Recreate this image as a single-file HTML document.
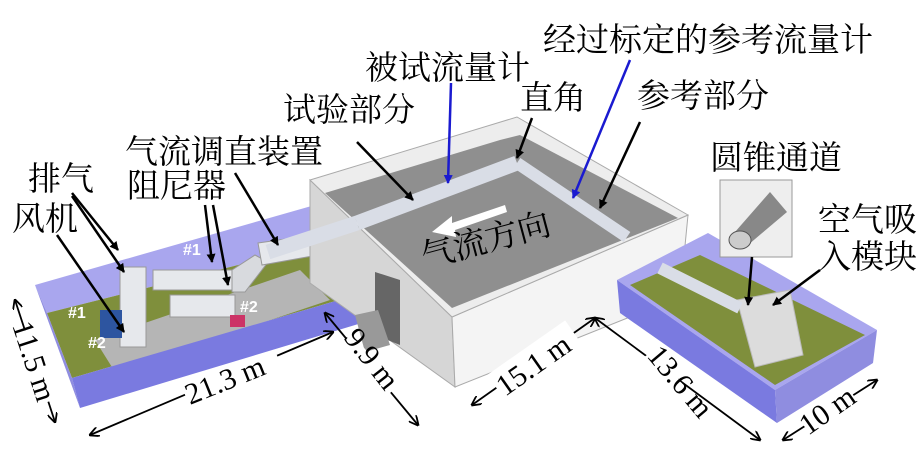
<!DOCTYPE html>
<html><head><meta charset="utf-8"><style>
html,body{margin:0;padding:0;background:#fff;}
svg{display:block}
text{font-family:"Liberation Serif","Noto Serif CJK SC","Noto Sans CJK SC",serif;fill:#000;}
.l{font-size:33px}
.d{font-size:30px}
.h{font-size:16px;fill:#fff;font-family:"Liberation Sans",sans-serif;font-weight:bold}
</style></head><body>
<svg width="918" height="453" viewBox="0 0 918 453" xmlns="http://www.w3.org/2000/svg">
<defs>
<marker id="a" markerWidth="9" markerHeight="9" refX="8" refY="4.5" orient="auto" markerUnits="userSpaceOnUse"><path d="M0,0 L9,4.5 L0,9 z" fill="#000"/></marker>
<marker id="ab" markerWidth="9" markerHeight="9" refX="8" refY="4.5" orient="auto" markerUnits="userSpaceOnUse"><path d="M0,0 L9,4.5 L0,9 z" fill="#1a1ad0"/></marker>
<marker id="s" markerWidth="10" markerHeight="10" refX="1" refY="5" orient="auto" markerUnits="userSpaceOnUse"><path d="M10,0 L0,5 L10,10" fill="none" stroke="#000" stroke-width="1.8"/></marker>
<marker id="e" markerWidth="10" markerHeight="10" refX="9" refY="5" orient="auto" markerUnits="userSpaceOnUse"><path d="M0,0 L10,5 L0,10" fill="none" stroke="#000" stroke-width="1.8"/></marker>
</defs>

<!-- left pit -->
<polygon points="35,285 315,205 318,245 47,313" fill="#a9a6ee"/>
<polygon points="47,313 318,245 363,293 72,378" fill="#7f8f3c"/>
<polygon points="95,340 300,270 330,300 115,372" fill="#b5b5b5"/>
<polygon points="35,285 47,313 72,378 80,408" fill="#8f8de0"/>
<polygon points="72,378 363,293 365,322 80,408" fill="#7a7ae0"/>
<!-- left pipes -->
<rect x="153" y="270" width="82" height="20" fill="#e6e8ec" stroke="#999"/>
<rect x="170" y="295" width="65" height="22" fill="#e6e8ec" stroke="#999"/>
<polygon points="232,270 255,255 268,262 245,292 232,292" fill="#d8dade" stroke="#999"/>
<polygon points="258,243 335,232 335,252 262,265" fill="#e6e8ec" stroke="#999"/>
<rect x="120" y="267" width="26" height="80" fill="#e6e8ec" stroke="#999"/>
<rect x="100" y="310" width="22" height="28" fill="#2d55a0"/>
<rect x="230" y="315" width="15" height="12" fill="#c36"/>
<text class="h" x="68" y="318">#1</text>
<text class="h" x="88" y="348">#2</text>
<text class="h" x="183" y="255">#1</text>
<text class="h" x="240" y="312">#2</text>

<!-- building -->
<polygon points="310,180 310,283 455,387 452,317" fill="#d6d6d6" stroke="#aaa"/>
<polygon points="452,317 688,215 680,297 455,387" fill="#f4f4f4" stroke="#aaa"/>
<polygon points="310,180 517,117 688,215 452,317" fill="#ededed" stroke="#aaa"/>
<polygon points="325,193 500,140 520,135 678,218 452,308" fill="#8f8f8f"/>
<polygon points="375,272 400,280 400,345 375,335" fill="#666"/>
<polygon points="355,315 378,310 390,345 365,352" fill="#999"/>
<!-- pipe in building -->
<line x1="357" y1="223" x2="517" y2="163" stroke="#d9dde6" stroke-width="15"/>
<line x1="517" y1="163" x2="627" y2="237" stroke="#d9dde6" stroke-width="12"/>
<line x1="268" y1="252" x2="357" y2="223" stroke="#d9dde6" stroke-width="15"/>
<polygon points="432,232 452,216 452,223 505,205 507,212 455,230 456,237" fill="#fff"/>

<!-- right pit -->
<polygon points="617,280 708,233 877,330 775,390" fill="#a9a6ee"/>
<polygon points="630,285 700,255 865,335 775,385" fill="#7f8f3c"/>
<polygon points="737,300 790,290 803,355 755,367" fill="#dcdcdc" stroke="#bbb"/>
<polygon points="617,280 775,390 777,423 620,313" fill="#7a7ae0"/>
<polygon points="775,390 877,330 873,363 777,423" fill="#8f8de0"/>
<line x1="660" y1="268" x2="740" y2="308" stroke="#d9dde6" stroke-width="12"/>
<!-- cone inset -->
<rect x="720" y="180" width="72" height="77" fill="#eee" stroke="#999"/>
<polygon points="735,232 770,192 787,212 748,245" fill="#888"/>
<ellipse cx="740" cy="240" rx="11" ry="9" fill="#ccc" stroke="#555"/>

<!-- labels -->
<text class="l" x="28" y="190">排气</text>
<text class="l" x="12" y="230">风机</text>
<text class="l" x="125" y="163">气流调直装置</text>
<text class="l" x="127" y="197">阻尼器</text>
<text class="l" x="283" y="121">试验部分</text>
<text class="l" x="365" y="79">被试流量计</text>
<text class="l" x="543" y="51">经过标定的参考流量计</text>
<text class="l" x="520" y="109">直角</text>
<text class="l" x="637" y="107">参考部分</text>
<text class="l" x="710" y="169">圆锥通道</text>
<text class="l" x="818" y="231">空气吸</text>
<text class="l" x="818" y="268">入模块</text>
<text class="l" transform="translate(425,268) rotate(-15)">气流方向</text>

<!-- label arrows -->
<g stroke="#000" stroke-width="2.5" fill="none">
<line x1="72" y1="193" x2="118" y2="250" marker-end="url(#a)"/>
<line x1="72" y1="196" x2="124" y2="272" marker-end="url(#a)"/>
<line x1="57" y1="235" x2="124" y2="332" marker-end="url(#a)"/>
<line x1="205" y1="205" x2="212" y2="262" marker-end="url(#a)"/>
<line x1="213" y1="205" x2="228" y2="285" marker-end="url(#a)"/>
<line x1="235" y1="173" x2="278" y2="245" marker-end="url(#a)"/>
<line x1="357" y1="142" x2="413" y2="200" marker-end="url(#a)"/>
<line x1="532" y1="118" x2="517" y2="158" marker-end="url(#a)"/>
<line x1="640" y1="122" x2="600" y2="208" marker-end="url(#a)"/>
<line x1="752" y1="257" x2="748" y2="305" marker-end="url(#a)"/>
<line x1="820" y1="270" x2="773" y2="305" marker-end="url(#a)"/>
</g>
<g stroke="#1a1ad0" stroke-width="2.5" fill="none">
<line x1="451" y1="83" x2="448" y2="183" marker-end="url(#ab)"/>
<line x1="630" y1="60" x2="573" y2="198" marker-end="url(#ab)"/>
</g>

<!-- dimensions -->
<g stroke="#000" stroke-width="1.8" fill="none">
<line x1="15" y1="300" x2="55" y2="422" marker-start="url(#s)" marker-end="url(#e)"/>
<line x1="90" y1="435" x2="333" y2="332" marker-start="url(#s)" marker-end="url(#e)"/>
<line x1="325" y1="313" x2="418" y2="425" marker-start="url(#s)" marker-end="url(#e)"/>
<line x1="472" y1="405" x2="595" y2="318" marker-start="url(#s)" marker-end="url(#e)"/>
<line x1="595" y1="318" x2="760" y2="440" marker-start="url(#s)" marker-end="url(#e)"/>
<line x1="783" y1="440" x2="877" y2="380" marker-start="url(#s)" marker-end="url(#e)"/>
</g>
<g>
<rect x="185" y="368" width="100" height="34" fill="#fff" transform="rotate(-22 235 385)"/>
<text class="d" transform="translate(190,405) rotate(-22)">21.3 m</text>
<rect x="18" y="330" width="28" height="75" fill="#fff" transform="rotate(-18 32 367)"/>
<text class="d" transform="translate(12,325) rotate(72)">11.5 m</text>
<rect x="348" y="335" width="30" height="70" fill="#fff" transform="rotate(-40 363 370)"/>
<text class="d" transform="translate(343,338) rotate(52)">9.9 m</text>
<rect x="488" y="345" width="95" height="32" fill="#fff" transform="rotate(-35 535 361)"/>
<text class="d" transform="translate(505,397) rotate(-35)">15.1 m</text>
<rect x="645" y="352" width="40" height="85" fill="#fff" transform="rotate(-37 665 394)"/>
<text class="d" transform="translate(646,356) rotate(50)">13.6 m</text>
<rect x="800" y="396" width="58" height="30" fill="#fff" transform="rotate(-35 829 411)"/>
<text class="d" transform="translate(808,436) rotate(-35)">10 m</text>
</g>
</svg>
</body></html>
